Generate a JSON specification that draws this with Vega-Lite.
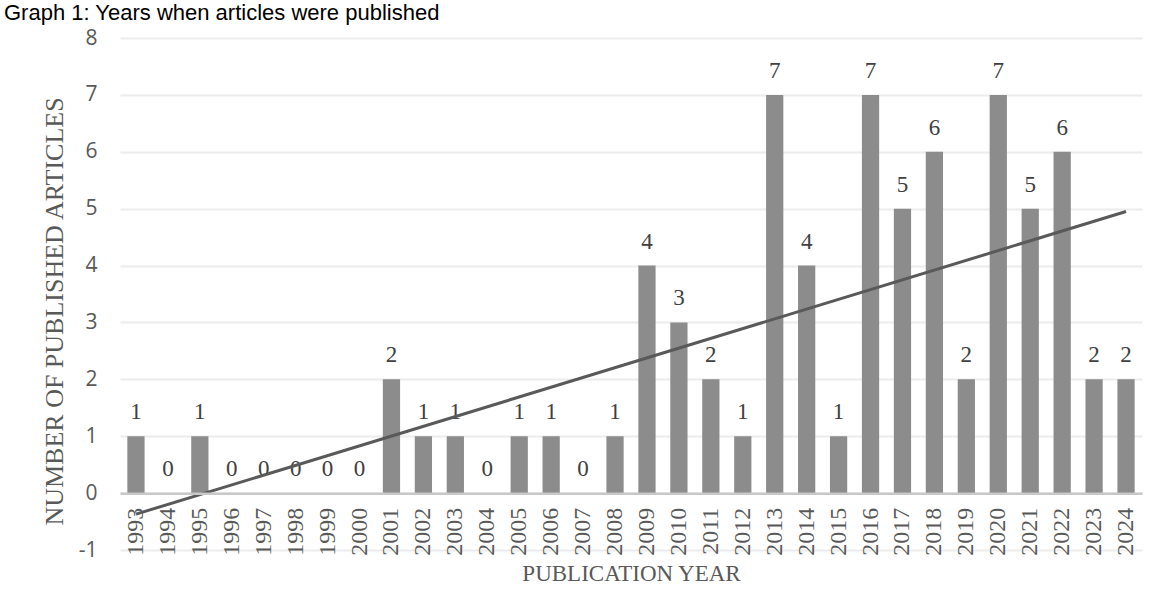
{
  "$schema": "https://vega.github.io/schema/vega-lite/v6.json",
  "width": 1022,
  "height": 512,
  "autosize": {"type": "none"},
  "padding": {"left": 120, "top": 38, "right": 19, "bottom": 63},
  "background": "white",
  "title": {
    "text": "Graph 1: Years when articles were published",
    "anchor": "start",
    "frame": "group",
    "font": "Liberation Sans",
    "fontSize": 22,
    "fontWeight": "normal",
    "color": "#000000",
    "dx": -116,
    "baseline": "alphabetic",
    "offset": 0,
    "dy": 15
  },
  "config": {
    "view": {"stroke": null}
  },
  "datasets": {
    "counts": [
      {"year": "1993", "articles": 1},
      {"year": "1994", "articles": 0},
      {"year": "1995", "articles": 1},
      {"year": "1996", "articles": 0},
      {"year": "1997", "articles": 0},
      {"year": "1998", "articles": 0},
      {"year": "1999", "articles": 0},
      {"year": "2000", "articles": 0},
      {"year": "2001", "articles": 2},
      {"year": "2002", "articles": 1},
      {"year": "2003", "articles": 1},
      {"year": "2004", "articles": 0},
      {"year": "2005", "articles": 1},
      {"year": "2006", "articles": 1},
      {"year": "2007", "articles": 0},
      {"year": "2008", "articles": 1},
      {"year": "2009", "articles": 4},
      {"year": "2010", "articles": 3},
      {"year": "2011", "articles": 2},
      {"year": "2012", "articles": 1},
      {"year": "2013", "articles": 7},
      {"year": "2014", "articles": 4},
      {"year": "2015", "articles": 1},
      {"year": "2016", "articles": 7},
      {"year": "2017", "articles": 5},
      {"year": "2018", "articles": 6},
      {"year": "2019", "articles": 2},
      {"year": "2020", "articles": 7},
      {"year": "2021", "articles": 5},
      {"year": "2022", "articles": 6},
      {"year": "2023", "articles": 2},
      {"year": "2024", "articles": 2}
    ],
    "trend": [
      {"year": "1993", "articles": -0.37},
      {"year": "2024", "articles": 4.95}
    ]
  },
  "layer": [
    {
      "data": {"name": "counts"},
      "mark": {"type": "bar", "color": "#8c8c8c"},
      "encoding": {
        "x": {
          "field": "year",
          "type": "ordinal",
          "sort": null,
          "scale": {"paddingInner": 0.46, "paddingOuter": 0.23},
          "axis": {
            "title": "PUBLICATION YEAR",
            "titleFont": "Liberation Serif",
            "titleFontSize": 23,
            "titleFontWeight": "normal",
            "titleColor": "#595959",
            "titleY": 87,
            "titleBaseline": "alphabetic",
            "offset": -56.84,
            "labelAngle": -90,
            "labelFont": "Liberation Serif",
            "labelFontSize": 24,
            "labelColor": "#595959",
            "labelPadding": 14,
            "ticks": false,
            "domainColor": "#c8c8c8",
            "domainWidth": 2.5,
            "zindex": 1
          }
        },
        "y": {
          "field": "articles",
          "type": "quantitative",
          "scale": {"domain": [-1, 8], "nice": false, "zero": false},
          "axis": {
            "values": [-1, 0, 1, 2, 3, 4, 5, 6, 7, 8],
            "labelExpr": "'' + datum.value",
            "title": "NUMBER OF PUBLISHED ARTICLES",
            "titleFont": "Liberation Serif",
            "titleFontSize": 26,
            "titleFontWeight": "normal",
            "titleColor": "#595959",
            "titleAngle": -90,
            "titleX": -66,
            "titleY": 273,
            "titleAlign": "center",
            "titleBaseline": "middle",
            "labelFont": "Open Sans",
            "labelFontSize": 21,
            "labelColor": "#595959",
            "labelPadding": 23,
            "ticks": false,
            "domain": false,
            "grid": true,
            "gridColor": "#ececec",
            "gridWidth": 2
          }
        }
      }
    },
    {
      "data": {"name": "counts"},
      "mark": {
        "type": "text",
        "baseline": "alphabetic",
        "dy": -17,
        "font": "Liberation Serif",
        "fontSize": 23,
        "color": "#404040"
      },
      "encoding": {
        "x": {"field": "year", "type": "ordinal", "sort": null},
        "y": {"field": "articles", "type": "quantitative"},
        "text": {"field": "articles", "type": "quantitative"}
      }
    },
    {
      "data": {"name": "trend"},
      "mark": {"type": "line", "color": "#595959", "strokeWidth": 3},
      "encoding": {
        "x": {"field": "year", "type": "ordinal", "sort": null},
        "y": {"field": "articles", "type": "quantitative"}
      }
    }
  ]
}
